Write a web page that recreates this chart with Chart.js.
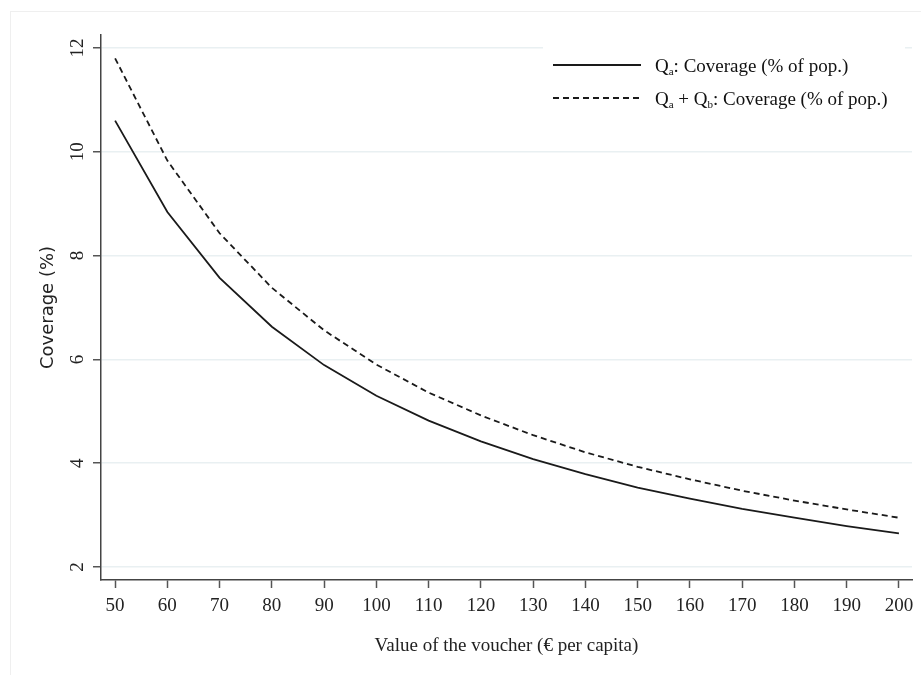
<!DOCTYPE html>
<html>
<head>
<meta charset="utf-8">
<title>Coverage by voucher value</title>
<script src="https://cdn.jsdelivr.net/npm/chart.js@4/dist/chart.umd.min.js"></script>
<style>
  html, body { margin: 0; padding: 0; background: #ffffff; }
  canvas { display: block; }
</style>
</head>
<body>
<canvas id="chart" width="921" height="675"></canvas>
<script>
// Voucher value (€ per capita)
const voucherValues = [50, 60, 70, 80, 90, 100, 110, 120, 130, 140, 150, 160, 170, 180, 190, 200];

// Coverage (% of population) for Q_a
const coverageQa = [10.6, 8.84, 7.57, 6.63, 5.89, 5.30, 4.82, 4.42, 4.08, 3.79, 3.53, 3.32, 3.12, 2.95, 2.79, 2.65];

// Coverage (% of population) for Q_a + Q_b
const coverageQab = [11.8, 9.83, 8.43, 7.38, 6.56, 5.90, 5.36, 4.92, 4.54, 4.21, 3.93, 3.69, 3.47, 3.28, 3.11, 2.95];

// Series labels ("_x" marks a subscript)
const seriesLabels = ['Q_a: Coverage (% of pop.)', 'Q_a + Q_b: Coverage (% of pop.)'];

// Axis ticks
const yTicks = [2, 4, 6, 8, 10, 12];
const xTicks = voucherValues;

const SERIF = "'Liberation Serif', 'Times New Roman', serif";
const SANS = "'DejaVu Sans', 'Open Sans', sans-serif";
const FONT_SIZE = 19;

// Faint outer frame around the figure
const framePlugin = {
  id: 'frame',
  beforeDraw(chart) {
    const ctx = chart.ctx;
    ctx.save();
    ctx.fillStyle = '#ffffff';
    ctx.fillRect(0, 0, chart.width, chart.height);
    ctx.strokeStyle = '#efefef';
    ctx.lineWidth = 1;
    ctx.strokeRect(10.5, 11.5, chart.width + 20, chart.height + 20);
    ctx.restore();
  }
};

// Rotated y tick labels (read bottom to top)
const rotatedYLabels = {
  id: 'rotatedYLabels',
  afterDraw(chart) {
    const scale = chart.scales.y;
    const ctx = chart.ctx;
    ctx.save();
    ctx.font = FONT_SIZE + 'px ' + SERIF;
    ctx.fillStyle = '#222222';
    ctx.textAlign = 'center';
    ctx.textBaseline = 'middle';
    scale.ticks.forEach(t => {
      const py = scale.getPixelForValue(t.value);
      ctx.save();
      ctx.translate(78, py);
      ctx.rotate(-Math.PI / 2);
      ctx.fillText(String(t.value), 0, 0);
      ctx.restore();
    });
    ctx.restore();
  }
};

// Draws a label string where "_x" renders x as a subscript
function drawRichLabel(ctx, text, x, y) {
  const parts = text.split(/(_[a-z])/);
  let cx = x;
  parts.forEach(p => {
    if (!p) return;
    if (p[0] === '_') {
      ctx.font = '11px ' + SERIF;
      ctx.fillText(p.slice(1), cx, y + 3);
      cx += ctx.measureText(p.slice(1)).width;
    } else {
      ctx.font = FONT_SIZE + 'px ' + SERIF;
      ctx.fillText(p, cx, y);
      cx += ctx.measureText(p).width;
    }
  });
}

// Legend inside the plot, top right
const legendPlugin = {
  id: 'innerLegend',
  afterDatasetsDraw(chart) {
    const ctx = chart.ctx;
    ctx.save();
    ctx.fillStyle = '#ffffff';
    ctx.fillRect(543, 37, 362, 80);
    const rows = [65, 98];
    chart.data.datasets.forEach((ds, i) => {
      const y = rows[i];
      ctx.strokeStyle = ds.borderColor;
      ctx.lineWidth = 2;
      ctx.setLineDash(ds.borderDash || []);
      ctx.beginPath();
      ctx.moveTo(553, y);
      ctx.lineTo(641, y);
      ctx.stroke();
      ctx.setLineDash([]);
      ctx.fillStyle = '#111111';
      ctx.textAlign = 'left';
      ctx.textBaseline = 'alphabetic';
      drawRichLabel(ctx, ds.label, 655, y + 7);
    });
    ctx.restore();
  }
};

new Chart(document.getElementById('chart'), {
  type: 'line',
  data: {
    datasets: [
      {
        label: seriesLabels[0],
        data: voucherValues.map((v, i) => ({ x: v, y: coverageQa[i] })),
        borderColor: '#1a1a1a',
        borderWidth: 1.8,
        pointRadius: 0,
        tension: 0,
        fill: false
      },
      {
        label: seriesLabels[1],
        data: voucherValues.map((v, i) => ({ x: v, y: coverageQab[i] })),
        borderColor: '#1a1a1a',
        borderWidth: 1.8,
        borderDash: [6, 4],
        pointRadius: 0,
        tension: 0,
        fill: false
      }
    ]
  },
  options: {
    responsive: false,
    animation: false,
    devicePixelRatio: 1,
    layout: { padding: { top: 35, right: 9, left: 0, bottom: 0 } },
    plugins: {
      legend: { display: false },
      tooltip: { enabled: false }
    },
    scales: {
      x: {
        type: 'linear',
        min: 47.3,
        max: 202.5,
        afterBuildTicks(scale) { scale.ticks = xTicks.map(v => ({ value: v })); },
        afterFit(scale) { scale.height = 95; },
        border: { display: true, color: '#444444', width: 1.5 },
        grid: {
          drawOnChartArea: false,
          drawTicks: true,
          tickLength: 8,
          tickColor: '#555555',
          tickWidth: 1.5
        },
        ticks: {
          autoSkip: false,
          maxRotation: 0,
          padding: 7,
          color: '#222222',
          font: { family: SERIF, size: FONT_SIZE }
        },
        title: {
          display: true,
          text: 'Value of the voucher (€ per capita)',
          color: '#222222',
          font: { family: SERIF, size: FONT_SIZE },
          padding: { top: 0, bottom: 18 }
        }
      },
      y: {
        type: 'linear',
        min: 1.75,
        max: 12.25,
        afterBuildTicks(scale) { scale.ticks = yTicks.map(v => ({ value: v })); },
        afterFit(scale) { scale.width = 101; },
        border: { display: true, color: '#444444', width: 1.5 },
        grid: {
          color: '#e9f0f2',
          lineWidth: 1.5,
          drawTicks: true,
          tickLength: 8,
          tickColor: '#555555',
          tickWidth: 1.5
        },
        ticks: { display: false },
        title: {
          display: true,
          text: 'Coverage (%)',
          color: '#222222',
          font: { family: SANS, size: 18 },
          padding: { top: 38, bottom: 0 }
        }
      }
    }
  },
  plugins: [framePlugin, rotatedYLabels, legendPlugin]
});
</script>
</body>
</html>
